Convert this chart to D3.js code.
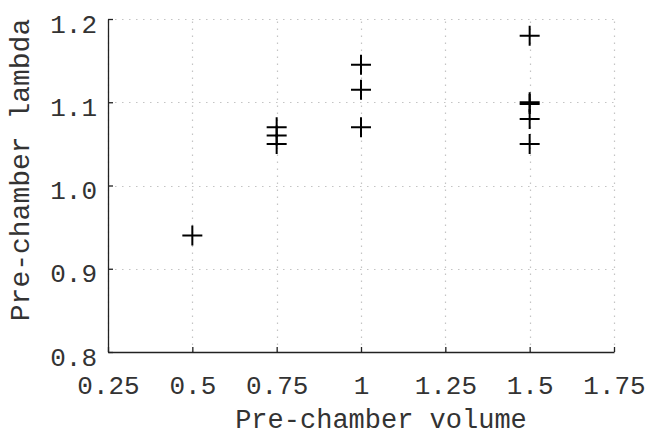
<!DOCTYPE html>
<html>
<head>
<meta charset="utf-8">
<script src="https://cdn.jsdelivr.net/npm/d3@7"></script>
<style>
  html, body { margin: 0; padding: 0; background: #fff; }
  svg text { font-family: "Liberation Mono", "Courier New", monospace; fill: #333; }
</style>
</head>
<body>
<svg id="chart" width="652" height="436"></svg>
<script>
// Pre-chamber volume vs. lambda measurements
const volume = [0.5, 0.75, 0.75, 0.75, 1, 1, 1, 1.5, 1.5, 1.5, 1.5, 1.5];
const lambda = [0.94, 1.07, 1.06, 1.05, 1.145, 1.115, 1.07, 1.18, 1.1, 1.098, 1.08, 1.05];

const xTicks = [0.25, 0.5, 0.75, 1, 1.25, 1.5, 1.75];
const xTickLabels = ["0.25", "0.5", "0.75", "1", "1.25", "1.5", "1.75"];
const yTicks = [0.8, 0.9, 1.0, 1.1, 1.2];
const yTickLabels = ["0.8", "0.9", "1.0", "1.1", "1.2"];

const xTitle = "Pre-chamber volume";
const yTitle = "Pre-chamber lambda";

const margin = { left: 108, right: 38, top: 19, bottom: 84 };
const W = 652, H = 436;

const svg = d3.select("#chart");

const x = d3.scaleLinear().domain([0.25, 1.75]).range([margin.left, W - margin.right]);
const y = d3.scaleLinear().domain([0.8, 1.2]).range([H - margin.bottom, margin.top]);

// dotted grid
const grid = svg.append("g")
  .attr("stroke", "#c4c4c4")
  .attr("stroke-width", 1.2)
  .attr("stroke-dasharray", "1.5,5.5");
grid.selectAll("line.gx").data(xTicks).join("line")
  .attr("class", "gx")
  .attr("x1", d => Math.round(x(d)) + 0.5).attr("x2", d => Math.round(x(d)) + 0.5)
  .attr("y1", y(0.8)).attr("y2", y(1.2));
grid.selectAll("line.gy").data(yTicks).join("line")
  .attr("class", "gy")
  .attr("y1", d => Math.round(y(d)) + 0.5).attr("y2", d => Math.round(y(d)) + 0.5)
  .attr("x1", x(0.25)).attr("x2", x(1.75));

// axes with inward ticks
const xAxis = d3.axisBottom(x).tickValues(xTicks).tickSizeInner(-5).tickSizeOuter(0)
  .tickFormat((d, i) => xTickLabels[i]).tickPadding(24);
const yAxis = d3.axisLeft(y).tickValues(yTicks).tickSizeInner(-5).tickSizeOuter(0)
  .tickFormat((d, i) => yTickLabels[i]).tickPadding(11);

const gx = svg.append("g").attr("transform", `translate(0,${y(0.8)})`).call(xAxis);
const gy = svg.append("g").attr("transform", `translate(${x(0.25)},0)`).call(yAxis);

[gx, gy].forEach(g => {
  g.select(".domain").attr("stroke", "#222").attr("stroke-width", 1.3);
  g.selectAll(".tick line").attr("stroke", "#222").attr("stroke-width", 1.3);
  g.selectAll(".tick text")
    .style("font-family", "'Liberation Mono', 'Courier New', monospace")
    .style("font-size", "26px")
    .attr("fill", "#333");
});
gy.selectAll(".tick text").attr("dy", "0.5em");
gx.selectAll(".tick text").attr("dy", "0.71em");

// axis titles
svg.append("text")
  .attr("x", 381).attr("y", 428)
  .attr("text-anchor", "middle")
  .style("font-size", "27px")
  .text(xTitle);

svg.append("text")
  .attr("transform", "translate(29,170) rotate(-90)")
  .attr("text-anchor", "middle")
  .style("font-size", "28px")
  .text(yTitle);

// plus markers
const r = 10;
const pts = svg.append("g").attr("stroke", "#000").attr("stroke-width", 2);
const data = volume.map((v, i) => ({ v, l: lambda[i] }));
pts.selectAll("path").data(data).join("path")
  .attr("d", d => {
    const cx = x(d.v), cy = y(d.l);
    return `M${cx - r},${cy}H${cx + r}M${cx},${cy - r}V${cy + r}`;
  })
  .attr("fill", "none");
</script>
</body>
</html>
